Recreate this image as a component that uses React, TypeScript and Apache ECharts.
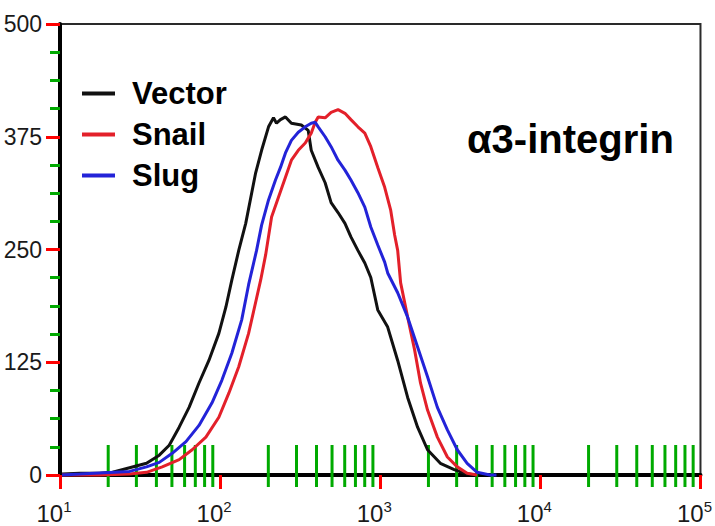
import React, { useEffect, useRef } from "react";
import * as echarts from "echarts";

const seriesNames = ["Vector", "Snail", "Slug"];
const seriesColors = ["#111111", "#e3202a", "#2323d8"];

// Fluorescence intensity (log scale) vs. cell count
const vectorX = [10.3, 13.3, 17.7, 21.3, 27.2, 34.7, 41.7, 48.1, 55.5, 64, 73.8, 85.1, 98.2, 108.6, 118.3, 130.7, 144.5, 166.7, 181.6, 200.6, 215.4, 224.9, 238.2, 255.9, 278.7, 321.4, 355, 370.7, 409.7, 452.8, 493.3, 545, 602, 656, 725, 801, 873, 965, 1113, 1285, 1483, 1711, 1974, 2373, 2897, 3490, 4027];
const vectorY = [1, 2, 2, 3, 8, 13, 22, 33, 53, 75, 102, 127, 157, 186, 216, 249, 279, 335, 360, 386, 396, 390, 394, 397, 390, 388, 382, 360, 341, 324, 302, 291, 279, 264, 249, 235, 219, 183, 164, 127, 86, 53, 28, 13, 6, 1, 0];

const snailX = [10.3, 17.7, 27.2, 34.7, 43.5, 55.5, 66.9, 81.5, 98.2, 113.5, 130.7, 150.6, 179.1, 192.4, 209.6, 231.4, 255.9, 278.7, 307.7, 340.2, 370.7, 392.6, 409.7, 452.8, 493.3, 545, 602, 656, 725, 801, 873, 965, 1066, 1161, 1230, 1285, 1341, 1483, 1638, 1784, 1974, 2274, 2626, 3027, 3490, 4027];
const snailY = [0, 0, 1, 3, 9, 17, 28, 42, 64, 91, 120, 157, 216, 244, 286, 308, 330, 349, 360, 368, 379, 391, 397, 396, 402, 405, 401, 394, 386, 379, 364, 341, 319, 294, 266, 249, 213, 175, 139, 102, 72, 42, 20, 9, 2, 0];

const slugX = [10.3, 13.3, 27.2, 34.7, 41.7, 50.2, 61.2, 73.8, 89, 102.5, 118.3, 136.4, 150.6, 168.9, 181.6, 200.6, 221.7, 238.2, 255.9, 278.7, 307.7, 340.2, 370.7, 392.6, 409.7, 452.8, 493.3, 545, 602, 656, 725, 801, 873, 965, 1066, 1113, 1285, 1483, 1711, 1974, 2274, 2626, 3027, 3490, 4027, 4842, 5322];
const slugY = [0, 1, 4, 9, 14, 24, 37, 55, 80, 105, 135, 172, 211, 249, 277, 305, 327, 341, 357, 371, 380, 386, 390, 391, 386, 375, 364, 349, 338, 327, 313, 297, 275, 255, 236, 224, 202, 175, 142, 109, 75, 50, 28, 13, 3, 0, 0];

const xExponents = [1, 2, 3, 4, 5];
const minorFactors = [2, 3, 4, 5, 6, 7, 8, 9];
const yTicks = [0, 125, 250, 375, 500];
const titleText = "α3-integrin";

const FONT = "'Liberation Sans', Arial, Helvetica, sans-serif";

export default function App() {
  const ref = useRef<HTMLDivElement>(null);
  useEffect(() => {
    if (!ref.current) return;
    const chart = echarts.init(ref.current, undefined, { renderer: "svg" });
    const xs = [vectorX, snailX, slugX];
    const ys = [vectorY, snailY, slugY];
    const xMin = xExponents[0];
    const xMax = xExponents[xExponents.length - 1];
    const yMin = yTicks[0];
    const yMax = yTicks[yTicks.length - 1];

    const xMinorData: number[][] = [];
    for (let i = 0; i < xExponents.length - 1; i++) {
      for (const f of minorFactors) xMinorData.push([xExponents[i] + Math.log10(f), yMin]);
    }

    chart.setOption({
      animation: false,
      color: seriesColors,
      textStyle: { fontFamily: FONT },
      grid: {
        left: 60, right: 10, top: 24, bottom: 51, containLabel: false,
        show: true, borderColor: "#2a2a2a", borderWidth: 2, backgroundColor: "transparent",
      },
      title: {
        text: titleText,
        left: 467,
        top: 119,
        padding: 0,
        textStyle: { fontSize: 40, fontWeight: "bold", color: "#000", fontFamily: FONT },
      },
      legend: {
        data: seriesNames,
        orient: "vertical",
        left: 82,
        top: 73,
        padding: 0,
        itemGap: 0,
        itemWidth: 33,
        itemHeight: 4,
        icon: "rect",
        textStyle: {
          fontSize: 31,
          fontWeight: "bold",
          color: "#000",
          lineHeight: 41,
          padding: [0, 0, 0, 12],
          fontFamily: FONT,
        },
      },
      xAxis: {
        type: "value",
        min: xMin,
        max: xMax,
        interval: 1,
        axisLine: { show: true, lineStyle: { color: "#000", width: 4 } },
        axisTick: { show: true, length: 14, lineStyle: { color: "#f00", width: 3 } },
        axisLabel: {
          margin: 24,
          padding: [0, 12, 0, 0],
          fontSize: 24,
          color: "#1a1a1a",
          formatter: (v: number) => `{b|10}{s|${Math.round(v)}}`,
          rich: {
            b: { fontSize: 24, color: "#1a1a1a", fontFamily: FONT, lineHeight: 28 },
            s: { fontSize: 15, color: "#1a1a1a", fontFamily: FONT, verticalAlign: "top", lineHeight: 28 },
          },
        },
        splitLine: { show: false },
      },
      yAxis: {
        type: "value",
        min: yMin,
        max: yMax,
        interval: 125,
        axisLine: { show: true, lineStyle: { color: "#000", width: 4 } },
        axisTick: { show: true, length: 14, lineStyle: { color: "#f00", width: 3 } },
        minorTick: { show: true, splitNumber: 4, length: 10, lineStyle: { color: "#0a0", width: 3 } },
        axisLabel: { margin: 18, fontSize: 23, color: "#1a1a1a", fontFamily: FONT },
        splitLine: { show: false },
      },
      series: [
        {
          type: "custom",
          clip: false,
          silent: true,
          encode: { x: 0, y: 1 },
          data: xMinorData,
          renderItem: (params: any, api: any) => {
            const p = api.coord([api.value(0), api.value(1)]);
            return {
              type: "line",
              shape: { x1: p[0], y1: p[1] - 30, x2: p[0], y2: p[1] + 12 },
              style: { stroke: "#0a0", lineWidth: 3 },
            };
          },
        },
        ...seriesNames.map((name, i) => ({
          name,
          type: "line",
          showSymbol: false,
          symbol: "none",
          clip: false,
          z: 3,
          lineStyle: { width: 3, color: seriesColors[i] },
          itemStyle: { color: seriesColors[i] },
          data: xs[i].map((x, j) => [Math.log10(x), ys[i][j]]),
        })),
      ],
    });

    return () => chart.dispose();
  }, []);
  return <div ref={ref} style={{ width: 715, height: 526, position: "absolute", left: 0, top: 0 }} />;
}
